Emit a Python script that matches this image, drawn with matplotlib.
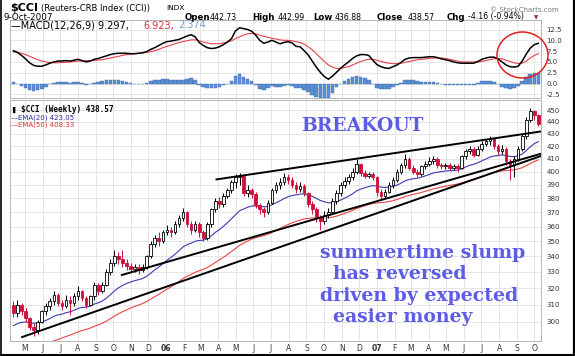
import numpy as np
import pandas as pd
import matplotlib
matplotlib.use('Agg')
import matplotlib.pyplot as plt
import matplotlib.dates as mdates
from matplotlib.patches import Ellipse
from matplotlib.lines import Line2D
from matplotlib.ticker import FixedLocator, NullLocator, FixedFormatter

# ---- data (weekly) ----
weeks = pd.date_range('2005-04-11', '2007-10-08', freq='7D')
first_open = 310
closes = [305, 310, 306, 302, 297, 295, 300, 306, 309, 312,
          316, 311, 309, 313, 311, 315, 318, 314, 310, 315,
          322, 318, 322, 330, 336, 340, 338, 336, 334, 332,
          333, 331, 333, 340, 348, 352, 350, 356, 358, 356,
          362, 366, 370, 362, 358, 362, 356, 352, 362, 372,
          378, 376, 382, 386, 392, 396, 397, 384, 386, 383,
          375, 372, 370, 377, 386, 390, 392, 396, 394, 390,
          387, 389, 384, 376, 372, 366, 364, 368, 370, 378,
          384, 390, 393, 396, 400, 406, 399, 397, 398, 396,
          385, 382, 385, 390, 394, 400, 405, 410, 403, 400,
          398, 404, 406, 408, 410, 405, 404, 405, 403, 404,
          403, 412, 416, 418, 413, 418, 422, 424, 426, 420,
          416, 418, 408, 405, 410, 418, 428, 442, 449, 446,
          438.57]
highs = [312, 313, 311, 308, 303, 299, 301, 307, 311, 314,
         318, 317, 313, 316, 315, 317, 321, 319, 315, 316,
         324, 323, 324, 332, 338, 344, 343, 344, 338, 336,
         335, 335, 335, 341, 350, 354, 356, 358, 361, 360,
         364, 368, 373, 371, 364, 364, 363, 358, 363, 373,
         380, 381, 384, 388, 394, 398, 399, 398, 390, 388,
         385, 377, 374, 379, 388, 392, 395, 399, 398, 396,
         392, 392, 391, 385, 378, 374, 368, 371, 373, 380,
         386, 392, 396, 398, 403, 410, 407, 401, 400, 400,
         397, 387, 387, 392, 396, 402, 407, 414, 411, 405,
         402, 405, 408, 411, 412, 411, 407, 407, 407, 406,
         406, 413, 418, 420, 419, 420, 424, 426, 428, 427,
         422, 421, 419, 410, 412, 420, 430, 444, 452, 450,
         447]
lows = [303, 303, 304, 300, 295, 292, 293, 299, 304, 307,
        310, 309, 307, 308, 304, 309, 313, 312, 308, 309,
        313, 316, 317, 321, 328, 334, 335, 333, 331, 330,
        330, 329, 330, 332, 339, 346, 347, 349, 354, 353,
        355, 360, 364, 360, 355, 356, 353, 350, 351, 360,
        370, 373, 374, 380, 384, 388, 390, 382, 381, 380,
        373, 369, 367, 369, 376, 384, 387, 390, 391, 388,
        384, 385, 382, 374, 369, 363, 358, 362, 366, 369,
        376, 382, 388, 391, 394, 398, 397, 395, 395, 394,
        382, 379, 380, 384, 388, 392, 398, 403, 401, 398,
        396, 397, 402, 404, 406, 403, 402, 402, 401, 401,
        400, 402, 410, 414, 411, 412, 416, 420, 421, 418,
        413, 414, 405, 394, 396, 408, 416, 426, 440, 442,
        437]
macd = [7.6, 7.2, 6.5, 5.7, 4.8, 4.2, 4.0, 4.0, 4.3, 4.7,
        5.0, 5.2, 5.2, 5.3, 5.2, 5.4, 5.6, 5.3, 5.0, 5.2,
        5.6, 5.8, 6.1, 6.4, 6.7, 6.9, 7.0, 7.0, 7.0, 6.9,
        6.9, 7.0, 7.1, 7.4, 7.9, 8.3, 8.8, 9.3, 9.7, 9.8,
        10.0, 10.2, 10.6, 11.0, 11.3, 10.8, 9.5, 8.8, 8.3, 8.1,
        8.2, 8.5, 9.0, 9.6, 10.4, 12.2, 12.9, 12.7, 12.5, 12.1,
        11.2, 10.0, 9.3, 9.6, 10.0, 9.6, 9.2, 9.5, 9.7, 9.4,
        8.6, 8.5, 7.6, 6.6, 5.2, 3.8, 2.6, 1.6, 1.0, 1.7,
        2.6, 3.5, 4.3, 5.0, 5.8, 6.4, 6.7, 6.7, 6.5, 5.4,
        4.4, 3.9, 3.6, 3.5, 3.9, 4.3, 4.9, 5.6, 5.9, 6.0,
        6.0, 6.0, 6.1, 6.2, 6.2, 6.0, 5.7, 5.5, 5.3, 5.0,
        4.8, 4.7, 4.7, 4.7, 4.7, 5.1, 5.6, 5.9, 6.1, 6.1,
        5.7, 5.0, 4.3, 3.9, 3.8, 4.0, 5.2, 6.8, 8.2, 9.0,
        9.297]
signal = [7.3, 7.2, 7.0, 6.7, 6.3, 5.9, 5.5, 5.2, 5.0, 4.9,
          4.8, 4.8, 4.9, 4.9, 5.0, 5.1, 5.2, 5.2, 5.3, 5.3,
          5.4, 5.4, 5.5, 5.7, 5.9, 6.1, 6.3, 6.5, 6.7, 6.8,
          6.9, 7.0, 7.1, 7.2, 7.4, 7.6, 7.9, 8.3, 8.6, 8.9,
          9.2, 9.5, 9.7, 9.9, 10.1, 10.1, 9.9, 9.6, 9.4, 9.2,
          9.2, 9.2, 9.4, 9.6, 9.9, 10.4, 10.8, 11.2, 11.5, 11.6,
          11.5, 11.2, 10.9, 10.7, 10.5, 10.3, 10.1, 10.0, 10.0, 9.9,
          9.7, 9.5, 9.1, 8.5, 7.8, 6.9, 6.0, 5.1, 4.3, 3.8,
          3.5, 3.5, 3.7, 3.9, 4.3, 4.7, 5.1, 5.4, 5.6, 5.6,
          5.4, 5.1, 4.9, 4.7, 4.6, 4.6, 4.7, 4.9, 5.1, 5.3,
          5.5, 5.6, 5.7, 5.8, 5.9, 5.9, 5.9, 5.8, 5.6, 5.4,
          5.2, 5.0, 5.0, 5.0, 5.0, 5.0, 5.1, 5.3, 5.5, 5.7,
          5.8, 5.7, 5.4, 5.1, 4.8, 4.6, 4.7, 5.2, 5.9, 6.5,
          6.923]
ema20_seed, ema50_seed = 297, 280

# trendlines drawn on the chart (date, price)
trend_a = (['2006-03-29', '2007-10-12'], [394.1, 432.0])
trend_b = (['2005-10-16', '2007-10-12'], [328.1, 413.9])
trend_c = (['2005-04-26', '2007-10-12'], [291.3, 412.1])

price_ticks = list(range(300, 451, 10))
macd_ticks = [-2.5, 0.0, 2.5, 5.0, 7.5, 10.0, 12.5]

def ema(vals, n, seed):
    a = 2.0 / (n + 1); e = seed; out = []
    for v in vals:
        e = e + a * (v - e); out.append(e)
    return np.array(out)

closes = np.array(closes, float)
opens = np.r_[first_open, closes[:-1]]
highs = np.maximum(np.array(highs, float), np.maximum(opens, closes))
lows = np.minimum(np.array(lows, float), np.minimum(opens, closes))
macd = np.array(macd); signal = np.array(signal); hist = macd - signal
ema20 = ema(closes, 20, ema20_seed)
ema50 = ema(closes, 50, ema50_seed)
xd = mdates.date2num(weeks)

# ---- figure ----
W, H = 575, 356
fig = plt.figure(figsize=(W / 100, H / 100), dpi=100)
fx = lambda x: x / W
fy = lambda y: 1 - y / H

grid_c = '#e2e2e2'
spine_c = '#a8a8a8'
x0 = mdates.date2num(pd.Timestamp('2005-05-01'))
xlim = (x0 - 26, x0 + 894.6)
months = pd.date_range('2005-05-01', '2007-10-01', freq='MS')
mnum = mdates.date2num(months)
mlab = [d.strftime('%y') if d.month == 1 else d.strftime('%b')[0] for d in months]

def style(ax):
    ax.set_xlim(*xlim)
    ax.xaxis.set_major_locator(FixedLocator(mnum))
    ax.grid(True, color=grid_c, lw=0.6)
    ax.set_axisbelow(True)
    for s in ax.spines.values():
        s.set_color(spine_c); s.set_linewidth(0.6)
    ax.yaxis.tick_right()
    ax.tick_params(axis='y', length=0, pad=4, labelsize=5, colors='#333333')
    ax.tick_params(axis='x', length=0)

# MACD panel
axm = fig.add_axes([fx(10), fy(98), fx(531), 78 / H])
style(axm)
axm.bar(xd, hist, width=6.2, color='#5b8fd2', edgecolor='#3d6eb0', lw=0.3, zorder=2)
axm.plot(xd, signal, color='#e8404a', lw=0.8, zorder=3)
axm.plot(xd, macd, color='black', lw=1.1, zorder=4)
axm.set_ylim(-3.35, 14.7)
axm.yaxis.set_major_locator(FixedLocator(macd_ticks))
axm.yaxis.set_major_formatter(FixedFormatter(['%.1f' % v for v in macd_ticks]))
axm.set_xticklabels([])

# price panel
ax = fig.add_axes([fx(10), fy(341), fx(531), 241 / H])
style(ax)
ax.set_yscale('log')
ax.set_ylim(289.1, 458.9)
ax.yaxis.set_major_locator(FixedLocator(price_ticks))
ax.yaxis.set_major_formatter(FixedFormatter([str(v) for v in price_ticks]))
ax.yaxis.set_minor_locator(NullLocator())
ax.xaxis.set_major_formatter(FixedFormatter(mlab))
ax.tick_params(axis='x', labelsize=5.5, pad=2, colors='#333333')
for lab in ax.get_xticklabels():
    if lab.get_text() in ('06', '07'):
        lab.set_fontweight('bold')

ax.plot(xd, ema20, color='#3b3bb0', lw=0.8, zorder=2)
ax.plot(xd, ema50, color='#e84545', lw=0.8, zorder=2)

up = closes >= opens
red = '#d0103a'
for i in range(len(xd)):
    col = 'black' if up[i] else red
    ax.vlines(xd[i], lows[i], highs[i], color=col, lw=0.7, zorder=3)
    lo, hi = min(opens[i], closes[i]), max(opens[i], closes[i])
    ax.bar(xd[i], hi - lo, bottom=lo, width=4.6, color='white' if up[i] else red,
           edgecolor=col, lw=0.6, zorder=4)

for dates, prices in (trend_a, trend_b, trend_c):
    ax.plot(mdates.date2num(pd.to_datetime(dates)), prices, color='black', lw=1.4, zorder=5)

# annotations
tc = '#5c5ce6'
fig.text(fx(362), fy(126), 'BREAKOUT', family='DejaVu Serif', weight='bold',
         fontsize=13.5, color=tc, ha='center', va='center')
for x, y, s in [(320, 258, 'summertime slump'), (333, 279, 'has reversed'),
                (320, 301, 'driven by expected'), (333, 322.5, 'easier money')]:
    fig.text(fx(x), fy(y), s, family='DejaVu Serif', weight='bold', fontsize=13.6,
             color=tc, ha='left', va='baseline')

fig.add_artist(Ellipse((fx(522.5), fy(55)), 51 / W, 46 / H, transform=fig.transFigure,
                       fill=False, ec='#e02020', lw=1.1))

# header texts
fig.text(fx(10), fy(8), '$CCI', fontsize=8, weight='bold', va='center')
fig.text(fx(41), fy(8), '(Reuters-CRB Index (CCI))', fontsize=6, va='center')
fig.text(fx(166), fy(8.5), 'INDX', fontsize=5.3, va='center')
fig.text(fx(3), fy(17), '9-Oct-2007', fontsize=6.3, va='center')
fig.text(fx(490), fy(10), '\u00a9 StockCharts.com', fontsize=5, color='#777777', va='center')
hdr = [(185, 'Open', True), (210, '442.73', False), (252, 'High', True), (278, '442.99', False),
       (313, 'Low', True), (335, '436.88', False), (377, 'Close', True), (408, '438.57', False),
       (447, 'Chg', True), (468, '-4.16 (-0.94%)', False)]
for x, s, b in hdr:
    fig.text(fx(x), fy(17), s, fontsize=6.2 if b else 5.6,
             weight='bold' if b else 'normal', va='center')
fig.text(fx(534), fy(17.5), '\u25bc', fontsize=4, color='#a02050', va='center')

fig.text(fx(11), fy(25.5), '\u2014MACD(12,26,9) 9.297,', fontsize=7, va='center')
fig.text(fx(143), fy(25.5), '6.923,', fontsize=7, color='#e03040', va='center')
fig.text(fx(178), fy(25.5), '2.374', fontsize=7, color='#6aa0d8', va='center')

fig.text(fx(12), fy(110), '\u258c', fontsize=4.5, va='center')
fig.text(fx(21), fy(110), '$CCI (Weekly) 438.57', family='DejaVu Sans Mono',
         fontsize=5.6, va='center', weight='bold')
fig.text(fx(11), fy(117.5), '\u2014EMA(20) 423.05', fontsize=5.0, color='#2b2b9b', va='center')
fig.text(fx(11), fy(125), '\u2014EMA(50) 408.33', fontsize=5.0, color='#e03030', va='center')

# outer frame (left, right, bottom)
for xs, ys, lw in [((fx(0.7), fx(0.7)), (0, 1), 1.2), ((fx(573.8), fx(573.8)), (0, 1), 1.6),
                   ((0, 1), (fy(354.5), fy(354.5)), 2.2)]:
    fig.add_artist(Line2D(xs, ys, color='black', lw=lw, transform=fig.transFigure))

fig.savefig('out.png', dpi=100)
